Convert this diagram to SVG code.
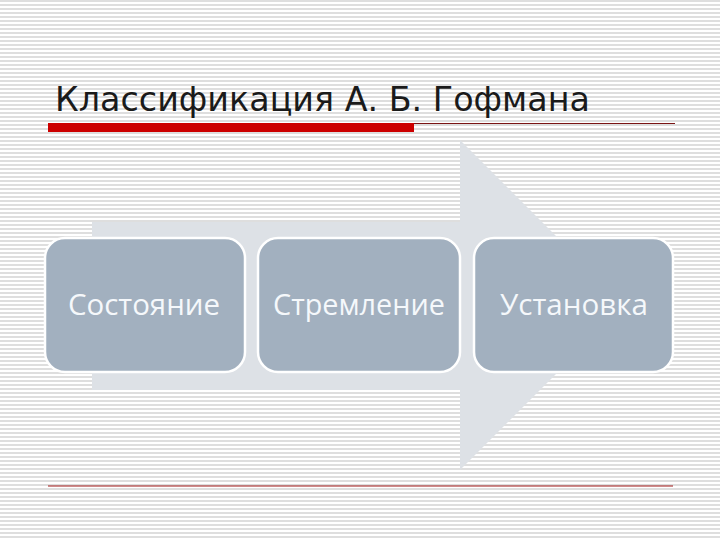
<svg xmlns="http://www.w3.org/2000/svg" width="720" height="540" viewBox="0 0 720 540">
<defs>
<pattern id="stripes" width="8" height="4" patternUnits="userSpaceOnUse">
<rect width="8" height="4" fill="#ffffff"/>
<rect y="0" width="8" height="2" fill="#dedede"/>
</pattern>
<style>
.box{fill:#a2b0bf;stroke:#ffffff;stroke-width:2.5}
.lbl{font-family:"Open Sans","DejaVu Sans",sans-serif;font-size:29px;fill:#f5f8fb;text-anchor:middle}
.title{font-family:"DejaVu Sans","Verdana",sans-serif;font-size:33px;fill:#1a1a1a}
</style>
</defs>
<rect width="720" height="540" fill="url(#stripes)"/>
<g id="title">
<text class="title" x="55" y="111" textLength="535" lengthAdjust="spacingAndGlyphs">Классификация А. Б. Гофмана</text>
</g>
<g id="rules">
<rect x="48" y="123" width="366" height="9" fill="#cc0000"/>
<line x1="414" y1="123.5" x2="675" y2="123.5" stroke="#7a1515" stroke-width="1"/>
<line x1="48" y1="486" x2="673" y2="486" stroke="#a01818" stroke-width="1.2"/>
</g>
<g id="connectors">
<polygon points="92,222 460,222 460,140 625,305 460,470 460,390 92,390" fill="#dde1e6"/>
</g>
<g id="node1">
<rect class="box" x="45" y="238" width="200" height="134" rx="20"/>
<text class="lbl" x="144" y="315" textLength="152" lengthAdjust="spacingAndGlyphs">Состояние</text>
</g>
<g id="node2">
<rect class="box" x="258" y="238" width="202" height="134" rx="20"/>
<text class="lbl" x="359" y="315" textLength="172" lengthAdjust="spacingAndGlyphs">Стремление</text>
</g>
<g id="node3">
<rect class="box" x="474" y="238" width="199" height="134" rx="20"/>
<text class="lbl" x="574" y="315" textLength="148" lengthAdjust="spacingAndGlyphs">Установка</text>
</g>
</svg>
